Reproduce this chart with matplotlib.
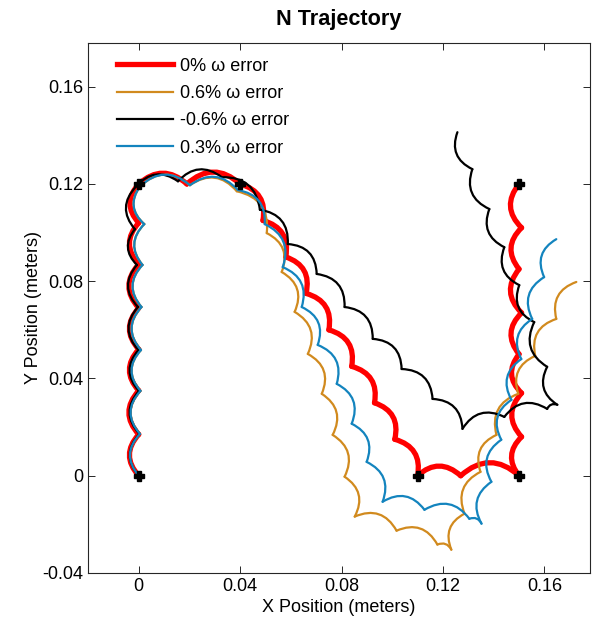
# N trajectory with omega error: scalloped robot paths
import matplotlib.pyplot as plt
from matplotlib.patches import FancyArrowPatch
from matplotlib.lines import Line2D

# commanded waypoints of the N (meters)
wp_x = [0, 0, 0.04, 0.11, 0.15, 0.15]
wp_y = [0, 0.12, 0.12, 0, 0, 0.12]

# cusp points of each trajectory (meters)
red_x = [0, 0, 0, 0, 0, 0, 0, 0, 0.019, 0.04,
         0.049, 0.058, 0.066, 0.075, 0.084, 0.093, 0.101, 0.11,
         0.127, 0.15, 0.151, 0.151, 0.150, 0.151, 0.150, 0.151, 0.150]
red_y = [0, 0.017, 0.035, 0.052, 0.069, 0.087, 0.104, 0.12, 0.12, 0.12,
         0.105, 0.090, 0.075, 0.060, 0.045, 0.030, 0.015, 0,
         0, 0, 0.016, 0.034, 0.050, 0.067, 0.085, 0.102, 0.12]

orange_x = [0, 0.0005, 0.0007, 0.0009, 0.0011, 0.0015, 0.0022, 0.0005, 0.0202, 0.0387,
            0.0505, 0.0564, 0.0615, 0.0667, 0.0722, 0.0765, 0.0812, 0.0852,
            0.1017, 0.1178, 0.1233,
            0.1285, 0.1348, 0.1411, 0.1497, 0.1564, 0.1647, 0.1726]
orange_y = [0, 0.0172, 0.0349, 0.0517, 0.0694, 0.0867, 0.1035, 0.1190, 0.1195, 0.1170,
            0.0998, 0.0838, 0.0674, 0.0501, 0.0337, 0.0168, -0.0004, -0.0168,
            -0.0226, -0.0283, -0.0304,
            -0.0156, 0.0016, 0.0168, 0.0337, 0.0493, 0.0645, 0.0797]

black_x = [0, 0.0003, 0.0001, -0.0001, -0.0003, -0.0007, -0.0015, -0.0010, 0.0155, 0.0328,
           0.0478, 0.0588, 0.0702, 0.0812, 0.0923, 0.1037, 0.1159, 0.1277,
           0.1442, 0.1611, 0.1651,
           0.1611, 0.1560, 0.1501, 0.1442, 0.1383, 0.1316, 0.1257]
black_y = [0, 0.0172, 0.0349, 0.0517, 0.0694, 0.0867, 0.1014, 0.1190, 0.1211, 0.1228,
           0.1094, 0.0953, 0.0830, 0.0694, 0.0563, 0.0439, 0.0316, 0.0193,
           0.0242, 0.0275, 0.0292,
           0.0448, 0.0632, 0.0784, 0.0940, 0.1097, 0.1261, 0.1413]

blue_x = [0, 0.0005, 0.0007, 0.0009, 0.0011, 0.0015, 0.0022, 0.0005, 0.0202, 0.0391,
          0.0497, 0.0568, 0.0643, 0.0706, 0.0781, 0.0840, 0.0899, 0.0962,
          0.1127, 0.1304, 0.1352,
          0.1391, 0.1430, 0.1470, 0.1509, 0.1552, 0.1599, 0.1647]
blue_y = [0, 0.0172, 0.0349, 0.0517, 0.0694, 0.0867, 0.1035, 0.1190, 0.1195, 0.1175,
          0.1035, 0.0858, 0.0694, 0.0538, 0.0378, 0.0214, 0.0057, -0.0107,
          -0.0140, -0.0177, -0.0197,
          -0.0025, 0.0148, 0.0312, 0.0480, 0.0645, 0.0817, 0.0973]

labels = ['0% \u03c9 error', '0.6% \u03c9 error', '-0.6% \u03c9 error', '0.3% \u03c9 error']
colors = ['#ff0000', '#d18a1e', '#000000', '#1384be']
widths = [3.8, 1.6, 1.6, 1.6]

plt.rcParams['font.family'] = ['Liberation Sans', 'DejaVu Sans']
plt.rcParams['font.size'] = 13


def draw_scallops(ax, xs, ys, color, lw, z):
    # each scallop is an arc between two cusps, bulging left of travel
    for i in range(len(xs) - 1):
        arc = FancyArrowPatch((xs[i], ys[i]), (xs[i + 1], ys[i + 1]),
                              arrowstyle='-', connectionstyle='arc3,rad=-0.45',
                              shrinkA=0, shrinkB=0, color=color, lw=lw,
                              capstyle='round', joinstyle='round', zorder=z)
        ax.add_patch(arc)


fig = plt.figure(figsize=(5.97, 6.21), dpi=100)
ax = fig.add_axes([0.1474, 0.0773, 0.8409, 0.8535])

series = [(red_x, red_y), (orange_x, orange_y), (black_x, black_y), (blue_x, blue_y)]
for k, (xs, ys) in enumerate(series):
    draw_scallops(ax, xs, ys, colors[k], widths[k], 2 + k)

ax.plot(wp_x, wp_y, linestyle='none', marker='P', markersize=7,
        color='black', zorder=10)

ax.set_xlim(-0.02, 0.178)
ax.set_ylim(-0.04, 0.178)
ax.set_xticks([0, 0.04, 0.08, 0.12, 0.16])
ax.set_xticklabels(['0', '0.04', '0.08', '0.12', '0.16'])
ax.set_yticks([-0.04, 0, 0.04, 0.08, 0.12, 0.16])
ax.set_yticklabels(['-0.04', '0', '0.04', '0.08', '0.12', '0.16'])
ax.tick_params(direction='in', top=True, right=True, length=5, width=0.7,
               colors='#262626', labelcolor='black')
for sp in ax.spines.values():
    sp.set_color('#262626')
    sp.set_linewidth(0.8)

ax.set_xlabel('X Position (meters)', labelpad=3)
ax.set_ylabel('Y Position (meters)', labelpad=0)
ax.set_title('N Trajectory', fontweight='bold', pad=13)

handles = [Line2D([], [], color=colors[k], lw=widths[k]) for k in range(4)]
ax.legend(handles, labels, loc='upper left', bbox_to_anchor=(0.058, 0.972),
          frameon=False, borderpad=0, borderaxespad=0, handlelength=3.1,
          handletextpad=0.4, labelspacing=0.57)

fig.savefig('out.png', dpi=100)
